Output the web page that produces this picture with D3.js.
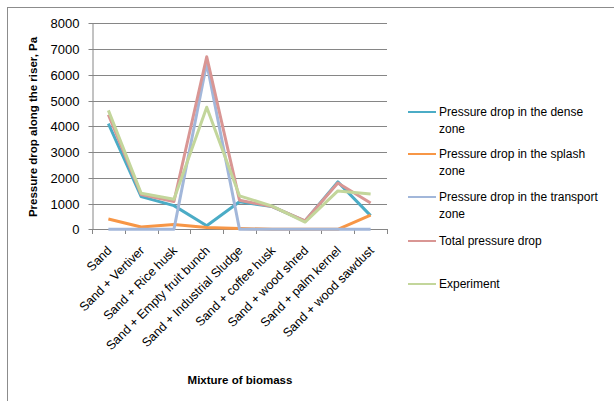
<!DOCTYPE html>
<html>
<head>
<meta charset="utf-8">
<script src="https://cdn.jsdelivr.net/npm/d3@7"></script>
<style>
  body { margin: 0; background: #fff; }
  text { font-family: 'Liberation Sans', Arial, sans-serif; }
</style>
</head>
<body>
<div id="chart"></div>
<script>
// categories and series
const categories = [
  'Sand', 'Sand + Vertiver', 'Sand + Rice husk', 'Sand + Empty fruit bunch',
  'Sand + Industrial Sludge', 'Sand + coffee husk', 'Sand + wood shred',
  'Sand + palm kernel', 'Sand + wood sawdust'
];
const denseZone     = [4100, 1270, 920, 140, 1070, 880, 320, 1840, 530];
const splashZone    = [400, 90, 190, 70, 30, 0, 0, 0, 550];
const transportZone = [0, 0, 0, 6450, 0, 0, 0, 0, 0];
const totalDrop     = [4450, 1350, 1080, 6700, 1130, 880, 330, 1800, 1020];
const experiment    = [4620, 1400, 1170, 4740, 1300, 900, 280, 1490, 1370];
const yTicks = [0, 1000, 2000, 3000, 4000, 5000, 6000, 7000, 8000];

const series = [
  { name: ['Pressure drop in the dense', 'zone'], values: denseZone, color: '#4BACC6' },
  { name: ['Pressure drop in the splash', 'zone'], values: splashZone, color: '#F79646' },
  { name: ['Pressure drop in the transport', 'zone'], values: transportZone, color: '#A2B7DA' },
  { name: ['Total pressure drop'], values: totalDrop, color: '#D99694' },
  { name: ['Experiment'], values: experiment, color: '#C3D69B' },
];

const W = 614, H = 401;
const FONT = "'Liberation Sans', Arial, sans-serif";
const svg = d3.select('#chart').append('svg').attr('width', W).attr('height', H);

// outer chart frame (runs off the right and bottom edges)
svg.append('rect')
  .attr('x', 7.5).attr('y', 7.5).attr('width', 640).attr('height', 420)
  .attr('fill', 'none').attr('stroke', '#8c8c8c').attr('stroke-width', 1);

const x = d3.scaleBand().domain(categories).range([92, 387]);
const y = d3.scaleLinear().domain([0, 8000]).range([229.3, 23.3]);

const grid = '#868686';

// gridlines
svg.append('g').selectAll('line').data(yTicks.filter(d => d > 0)).join('line')
  .attr('x1', 92).attr('x2', 387)
  .attr('y1', d => Math.round(y(d)) + 0.5).attr('y2', d => Math.round(y(d)) + 0.5)
  .attr('stroke', grid).attr('stroke-width', 1);

// y axis
const yAxis = svg.append('g').attr('transform', 'translate(92.5,0)')
  .call(d3.axisLeft(y).tickValues(yTicks).tickFormat(d3.format('d'))
    .tickSize(4).tickSizeOuter(0).tickPadding(9));
yAxis.select('.domain').attr('stroke', grid);
yAxis.selectAll('.tick line').attr('stroke', grid);
yAxis.selectAll('.tick').attr('transform', d => `translate(0,${Math.round(y(d)) + 0.5})`);
yAxis.selectAll('text').attr('font-size', 13).attr('fill', '#000')
  .style('font-family', FONT);

// x axis (ticks at band boundaries)
const xa = svg.append('g');
xa.append('line').attr('x1', 92).attr('x2', 387)
  .attr('y1', Math.round(y(0)) + 0.5).attr('y2', Math.round(y(0)) + 0.5)
  .attr('stroke', grid);
const bounds = categories.map(c => x(c)).concat([x.range()[1]]);
xa.selectAll('line.tk').data(bounds).join('line').attr('class', 'tk')
  .attr('x1', d => Math.round(d) + 0.5).attr('x2', d => Math.round(d) + 0.5)
  .attr('y1', Math.round(y(0))).attr('y2', Math.round(y(0)) + 5)
  .attr('stroke', grid);

xa.selectAll('text').data(categories).join('text')
  .attr('transform', d => `translate(${x(d) + x.bandwidth() / 2 + 4},${y(0) + 22}) rotate(-45)`)
  .attr('text-anchor', 'end')
  .attr('font-size', 12.5)
  .attr('fill', '#000')
  .text(d => d);

// lines
const line = d3.line()
  .x((d, i) => x(categories[i]) + x.bandwidth() / 2)
  .y(d => y(d));

svg.append('g').selectAll('path').data(series).join('path')
  .attr('d', s => line(s.values))
  .attr('fill', 'none')
  .attr('stroke', s => s.color)
  .attr('stroke-width', 3)
  .attr('stroke-linejoin', 'round');

// axis titles
svg.append('text')
  .attr('transform', 'translate(37,127) rotate(-90)')
  .attr('text-anchor', 'middle')
  .attr('font-size', 11.5).attr('font-weight', 'bold')
  .text('Pressure drop along the riser, Pa');

svg.append('text')
  .attr('x', 240).attr('y', 384)
  .attr('text-anchor', 'middle')
  .attr('font-size', 11.5).attr('font-weight', 'bold')
  .text('Mixture of biomass');

// legend
const legY = [112, 154, 197, 241, 284];
const leg = svg.append('g').selectAll('g').data(series).join('g')
  .attr('transform', (d, i) => `translate(408,${legY[i]})`);
leg.append('line').attr('x1', 0).attr('x2', 28).attr('y1', 0).attr('y2', 0)
  .attr('stroke', d => d.color).attr('stroke-width', 2);
leg.each(function(d) {
  const t = d3.select(this).append('text')
    .attr('x', 31).attr('y', 4)
    .attr('font-size', 12).attr('fill', '#000');
  d.name.forEach((ln, j) => {
    t.append('tspan').attr('x', 31).attr('dy', j === 0 ? 0 : 16.5).text(ln);
  });
});
</script>
</body>
</html>
